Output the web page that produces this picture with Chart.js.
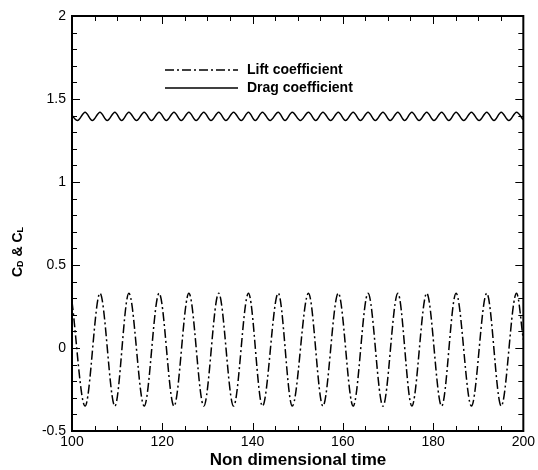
<!DOCTYPE html>
<html>
<head>
<meta charset="utf-8">
<script src="https://cdn.jsdelivr.net/npm/chart.js@4"></script>
<style>
  html, body { margin: 0; padding: 0; background: #fff; }
  #wrap { width: 538px; height: 470px; }
</style>
</head>
<body>
<div id="wrap"><canvas id="chartCoef"></canvas></div>
<script>
// lift coefficient: peaks and troughs
const liftTime = [100, 102.9, 106.2, 109.5, 112.6, 116.0, 119.3, 122.6, 125.9, 129.2, 132.5, 135.8, 139.1, 142.2,
    145.7, 148.8, 152.4, 155.6, 159.0, 162.3, 165.6, 168.9, 172.2, 175.3, 178.6, 181.9, 185.1, 188.5, 191.9,
    195.1, 198.5, 200];
const liftValue = [0.28, -0.35, 0.33, -0.35, 0.33, -0.35, 0.33, -0.35, 0.33, -0.35, 0.33, -0.35, 0.33, -0.35,
    0.33, -0.35, 0.33, -0.35, 0.33, -0.35, 0.33, -0.35, 0.33, -0.35, 0.33, -0.35, 0.33, -0.35, 0.33,
    -0.35, 0.33, 0.05];

// drag coefficient: twice the frequency
const dragTime = [100, 101.2, 102.9, 104.5, 106.2, 107.8, 109.5, 111.0, 112.6, 114.3, 116.0, 117.6, 119.3, 120.9,
    122.6, 124.2, 125.9, 127.5, 129.2, 130.8, 132.5, 134.1, 135.8, 137.5, 139.1, 140.6, 142.2, 143.9, 145.7,
    147.2, 148.8, 150.6, 152.4, 154.0, 155.6, 157.3, 159.0, 160.6, 162.3, 163.9, 165.6, 167.2, 168.9, 170.5,
    172.2, 173.7, 175.3, 176.9, 178.6, 180.2, 181.9, 183.5, 185.1, 186.8, 188.5, 190.2, 191.9, 193.5, 195.1,
    196.8, 198.5, 200];
const dragValue = [1.40, 1.37, 1.42, 1.37, 1.42, 1.37, 1.42, 1.37, 1.42, 1.37, 1.42, 1.37, 1.42, 1.37,
    1.42, 1.37, 1.42, 1.37, 1.42, 1.37, 1.42, 1.37, 1.42, 1.37, 1.42, 1.37, 1.42, 1.37, 1.42,
    1.37, 1.42, 1.37, 1.42, 1.37, 1.42, 1.37, 1.42, 1.37, 1.42, 1.37, 1.42, 1.37, 1.42, 1.37,
    1.42, 1.37, 1.42, 1.37, 1.42, 1.37, 1.42, 1.37, 1.42, 1.37, 1.42, 1.37, 1.42, 1.37, 1.42,
    1.37, 1.42, 1.375];

const xTicks = [100, 120, 140, 160, 180, 200];
const yTicks = [-0.5, 0, 0.5, 1, 1.5, 2];
const legendLabels = ["Lift coefficient", "Drag coefficient"];

const liftDash = [9, 3, 2, 3];
const fontFam = "'Liberation Sans', Arial, sans-serif";

const toPoints = (xs, ys) => xs.map((x, i) => ({ x: x, y: ys[i] }));

// frame, inward ticks, legend, axis titles
const framePlugin = {
    id: "frame",
    afterDraw(chart) {
        const ctx = chart.ctx;
        const a = chart.chartArea;
        const xs = chart.scales.x;
        const ys = chart.scales.y;
        ctx.save();
        ctx.strokeStyle = "#000";

        ctx.lineWidth = 1;
        for (let v = 100; v <= 200.001; v += 5) {
            const px = Math.round(xs.getPixelForValue(v)) + 0.5;
            const len = v % 20 === 0 ? 8 : 5;
            ctx.beginPath();
            ctx.moveTo(px, a.bottom); ctx.lineTo(px, a.bottom - len);
            ctx.moveTo(px, a.top); ctx.lineTo(px, a.top + len);
            ctx.stroke();
        }
        for (let k = -5; k <= 20; k++) {
            const v = k / 10;
            const py = Math.round(ys.getPixelForValue(v)) + 0.5;
            const len = k % 5 === 0 ? 8 : 5;
            ctx.beginPath();
            ctx.moveTo(a.left, py); ctx.lineTo(a.left + len, py);
            ctx.moveTo(a.right, py); ctx.lineTo(a.right - len, py);
            ctx.stroke();
        }

        ctx.lineWidth = 2;
        ctx.strokeRect(a.left, a.top, a.right - a.left, a.bottom - a.top);

        // legend
        ctx.lineWidth = 1.5;
        ctx.setLineDash(liftDash);
        ctx.beginPath(); ctx.moveTo(165, 70); ctx.lineTo(238, 70); ctx.stroke();
        ctx.setLineDash([]);
        ctx.beginPath(); ctx.moveTo(165, 88); ctx.lineTo(238, 88); ctx.stroke();
        ctx.fillStyle = "#000";
        ctx.font = "bold 14px " + fontFam;
        ctx.textBaseline = "middle";
        ctx.textAlign = "left";
        ctx.fillText(legendLabels[0], 247, 70);
        ctx.fillText(legendLabels[1], 247, 88);

        // x title
        ctx.font = "bold 17px " + fontFam;
        ctx.textAlign = "center";
        ctx.fillText("Non dimensional time", 298, 460);

        // y title with subscripts
        ctx.translate(18, 252);
        ctx.rotate(-Math.PI / 2);
        ctx.textAlign = "left";
        const parts = [["C", 14, 0], ["D", 9, 3], [" & ", 14, 0], ["C", 14, 0], ["L", 9, 3]];
        let total = 0;
        parts.forEach((p) => { ctx.font = "bold " + p[1] + "px " + fontFam; total += ctx.measureText(p[0]).width; });
        let cx = -total / 2;
        parts.forEach((p) => {
            ctx.font = "bold " + p[1] + "px " + fontFam;
            ctx.fillText(p[0], cx, p[2]);
            cx += ctx.measureText(p[0]).width;
        });
        ctx.restore();
    },
};

const configCoef = {
    type: "line",
    data: {
        datasets: [
            {
                label: legendLabels[0],
                data: toPoints(liftTime, liftValue),
                borderColor: "#000",
                borderWidth: 1.5,
                borderDash: liftDash,
                pointRadius: 0,
                cubicInterpolationMode: "monotone",
            },
            {
                label: legendLabels[1],
                data: toPoints(dragTime, dragValue),
                borderColor: "#000",
                borderWidth: 1.5,
                pointRadius: 0,
                cubicInterpolationMode: "monotone",
            },
        ],
    },
    options: {
        responsive: true,
        maintainAspectRatio: false,
        animation: false,
        layout: { padding: { top: 16, right: 13, left: 0, bottom: 0 } },
        plugins: { legend: { display: false }, tooltip: { enabled: false } },
        scales: {
            x: {
                type: "linear",
                min: 100,
                max: 200,
                grid: { display: false, drawTicks: false },
                border: { display: false },
                afterBuildTicks: (s) => { s.ticks = xTicks.map((v) => ({ value: v })); },
                afterFit: (s) => { s.height = 39; },
                ticks: { color: "#000", padding: 3, maxRotation: 0, font: { family: fontFam, size: 14 },
                    callback: (v) => String(v) },
            },
            y: {
                min: -0.5,
                max: 2,
                grid: { display: false, drawTicks: false },
                border: { display: false },
                afterBuildTicks: (s) => { s.ticks = yTicks.map((v) => ({ value: v })); },
                afterFit: (s) => { s.width = 72; },
                ticks: { color: "#000", padding: 6, font: { family: fontFam, size: 14 },
                    callback: (v) => String(v) },
            },
        },
    },
    plugins: [framePlugin],
};

const chartCoef = new Chart(document.getElementById("chartCoef"), configCoef);
</script>
</body>
</html>
